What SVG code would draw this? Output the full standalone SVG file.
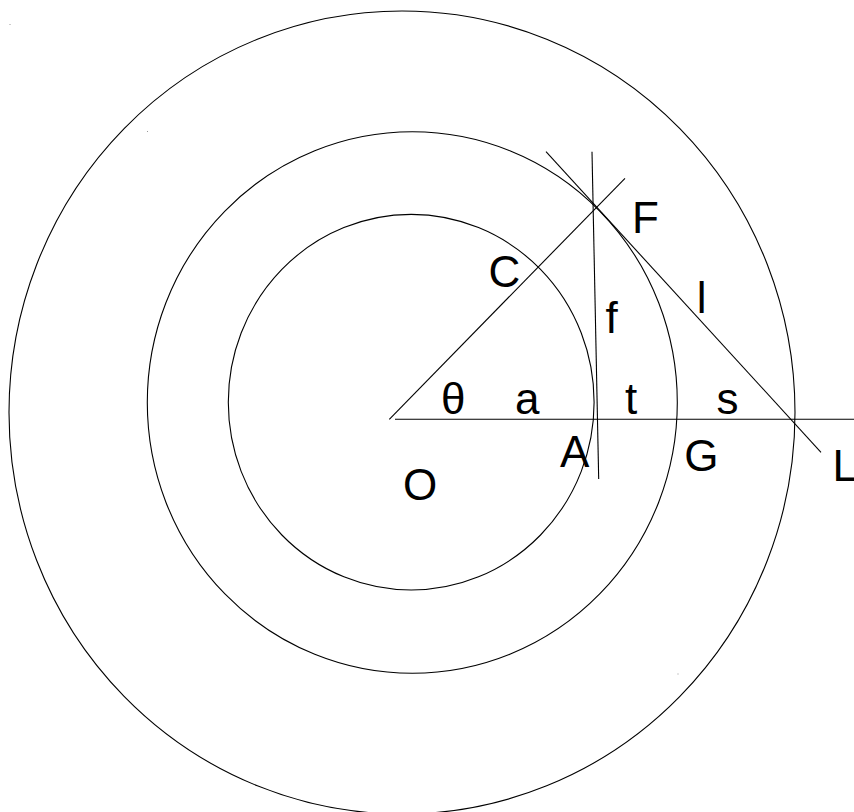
<svg xmlns="http://www.w3.org/2000/svg" width="854" height="812" viewBox="0 0 854 812">
<style>
.c{fill:none;stroke:#000;stroke-width:1.1}
.l{fill:none;stroke:#000;stroke-width:1.1}
.t{font-family:"Liberation Sans",Arial,sans-serif;font-size:44px;fill:#000;text-anchor:middle}
</style>
<rect width="854" height="812" fill="#fff"/>
<g id="circles">
<ellipse id="outer" class="c" cx="402" cy="412.5" rx="393" ry="401.5"/>
<ellipse id="middle" class="c" cx="412.3" cy="402.5" rx="265" ry="270.8"/>
<ellipse id="inner" class="c" cx="411.2" cy="402.2" rx="182.9" ry="187.8"/>
</g>
<g id="connectors">
<line class="l" x1="395" y1="419.3" x2="854" y2="419.3"/>
<line class="l" x1="389.3" y1="419.3" x2="625" y2="178.3"/>
<line class="l" x1="592" y1="151.7" x2="598.7" y2="479"/>
<line class="l" x1="546" y1="151.7" x2="821" y2="452.3"/>
</g>
<g id="specks" fill="#999">
<rect x="9.5" y="24" width="1" height="1"/>
<rect x="147" y="131" width="1" height="1"/>
<rect x="677.5" y="673.5" width="1" height="1"/>
</g>
<g id="labels">
<text id="theta" class="t" x="453.3" y="414">θ</text>
<text id="a" class="t" x="527.2" y="414">a</text>
<text id="t" class="t" x="631" y="414">t</text>
<text id="s" class="t" x="727.5" y="414">s</text>
<text id="A" class="t" x="574.8" y="466.7">A</text>
<text id="O" class="t" x="420" y="500">O</text>
<text id="G" class="t" x="701.3" y="471">G</text>
<text id="L" class="t" x="832.5" y="480.5" style="text-anchor:start">L</text>
<text id="F" class="t" x="645.5" y="232.7">F</text>
<text id="l" class="t" x="701.7" y="313.3">l</text>
<text id="f" class="t" x="611.5" y="332.7">f</text>
<text id="C" class="t" x="504.3" y="287.4">C</text>
</g>
</svg>
